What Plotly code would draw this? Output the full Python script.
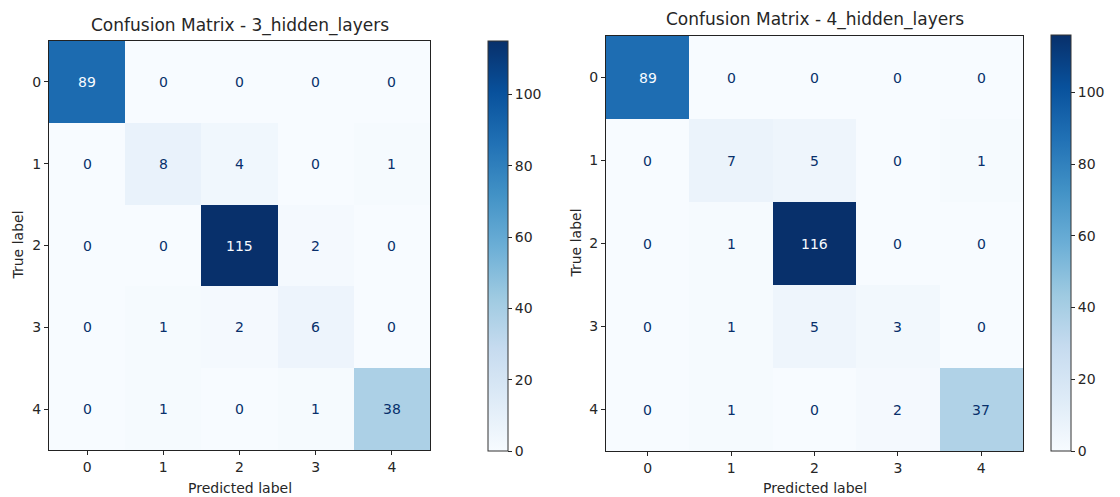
import plotly.graph_objects as go
import plotly.colors as pc

labels = [0, 1, 2, 3, 4]
cm3 = [
    [89, 0, 0, 0, 0],
    [0, 8, 4, 0, 1],
    [0, 0, 115, 2, 0],
    [0, 1, 2, 6, 0],
    [0, 1, 0, 1, 38],
]
cm4 = [
    [89, 0, 0, 0, 0],
    [0, 7, 5, 0, 1],
    [0, 1, 116, 0, 0],
    [0, 1, 5, 3, 0],
    [0, 1, 0, 2, 37],
]
titles = ["Confusion Matrix - 3_hidden_layers", "Confusion Matrix - 4_hidden_layers"]
cbar_ticks = [0, 20, 40, 60, 80, 100]

W, H = 1120, 497


def fx(px):
    return px / W


def fy(py):
    return 1 - py / H


blues = pc.sequential.Blues
scale = [[i / (len(blues) - 1), c] for i, c in enumerate(blues)]
FONT = "DejaVu Sans"
TXT = "#262626"

# pixel geometry (window coords) for each panel
panels = [
    dict(px=(49, 430), py=(41, 450), cb=(488, 41, 451), title_y=25, ylab_x=17),
    dict(px=(606, 1023), py=(36, 451), cb=(1051, 35, 451), title_y=19, ylab_x=575),
]

fig = go.Figure()
annotations = []
for i, (cm, title, p) in enumerate(zip([cm3, cm4], titles, panels)):
    xa = "x" if i == 0 else "x2"
    ya = "y" if i == 0 else "y2"
    zmax = max(max(r) for r in cm)
    cbx, cbt, cbb = p["cb"]
    fig.add_trace(go.Heatmap(
        z=cm, x=labels, y=labels, xaxis=xa, yaxis=ya,
        colorscale=scale, zmin=0, zmax=zmax, hoverinfo="skip",
        colorbar=dict(
            x=fx(cbx), xanchor="left", xpad=0, ypad=0,
            y=fy(cbb), yanchor="bottom",
            lenmode="pixels", len=cbb - cbt,
            thickness=20, thicknessmode="pixels",
            outlinewidth=1, outlinecolor="#333333",
            tickvals=cbar_ticks, ticks="outside", ticklen=4, tickwidth=1,
            tickcolor=TXT, tickfont=dict(family=FONT, size=14, color=TXT),
        ),
    ))
    thr = zmax / 2
    for r, row in enumerate(cm):
        for c, v in enumerate(row):
            annotations.append(dict(
                x=labels[c], y=labels[r], xref=xa, yref=ya, text=str(v),
                showarrow=False,
                font=dict(family=FONT, size=14,
                          color="#f7fbff" if v > thr else "#08306b"),
            ))
    x0, x1 = p["px"]
    yt, yb = p["py"]
    annotations.append(dict(
        x=fx((x0 + x1) / 2), y=fy(p["title_y"]), xref="paper", yref="paper",
        text=title, showarrow=False, xanchor="center", yanchor="middle",
        font=dict(family=FONT, size=17, color=TXT)))
    annotations.append(dict(
        x=fx((x0 + x1) / 2), y=fy(488), xref="paper", yref="paper",
        text="Predicted label", showarrow=False, xanchor="center", yanchor="middle",
        font=dict(family=FONT, size=14, color=TXT)))
    annotations.append(dict(
        x=fx(p["ylab_x"]), y=fy((yt + yb) / 2), xref="paper", yref="paper",
        text="True label", showarrow=False, textangle=-90,
        xanchor="center", yanchor="middle",
        font=dict(family=FONT, size=14, color=TXT)))
    axis_common = dict(
        showline=True, linecolor="#222222", linewidth=1, mirror=True,
        ticks="outside", ticklen=4, tickwidth=1, tickcolor=TXT,
        tickvals=labels, showgrid=False, zeroline=False,
        tickfont=dict(family=FONT, size=14, color=TXT),
    )
    xkey = "xaxis" if i == 0 else "xaxis2"
    ykey = "yaxis" if i == 0 else "yaxis2"
    fig.update_layout({
        xkey: dict(domain=[fx(x0), fx(x1)], anchor=ya, range=[-0.5, 4.5], **axis_common),
        ykey: dict(domain=[fy(yb), fy(yt)], anchor=xa, range=[4.5, -0.5], **axis_common),
    })

fig.update_layout(
    width=W, height=H, margin=dict(l=0, r=0, t=0, b=0),
    paper_bgcolor="white", plot_bgcolor="white",
    annotations=annotations, showlegend=False,
    font=dict(family=FONT, color=TXT),
)
fig.write_html(
    "out.html",
    config={"displayModeBar": False, "staticPlot": True},
    post_script="document.body.style.margin='0';document.body.style.overflow='hidden';",
)
